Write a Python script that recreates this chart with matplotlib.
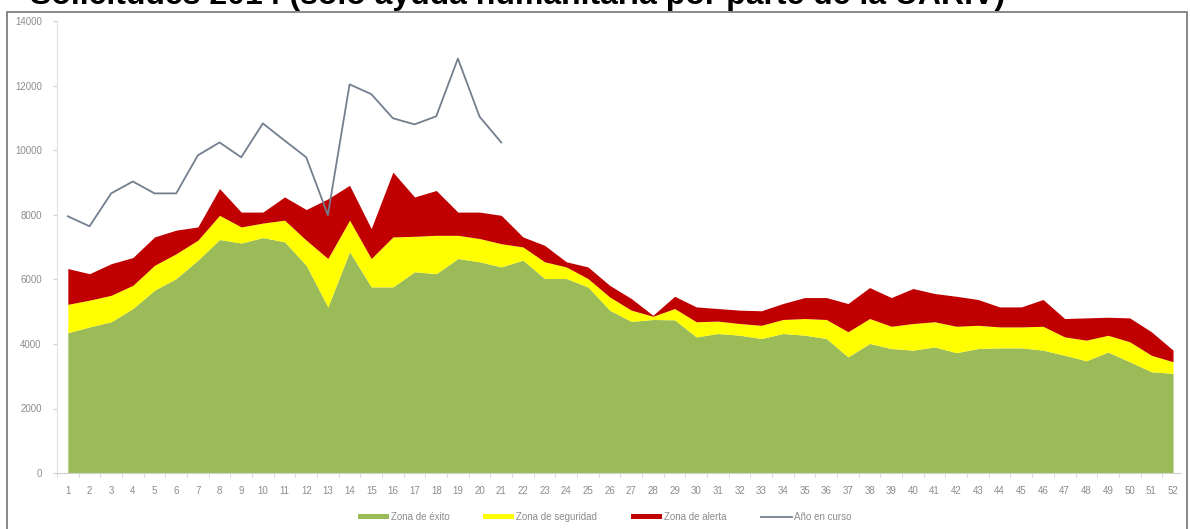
import matplotlib.pyplot as plt
import matplotlib.patches as patches

semanas = list(range(1, 53))

# limites del canal (valores acumulados)
zona_exito = [4350, 4530, 4690, 5100, 5670, 6030, 6600, 7240, 7130, 7300,
              7170, 6440, 5150, 6860, 5770, 5770, 6240, 6180, 6650, 6550,
              6390, 6600, 6030, 6030, 5770, 5050, 4700, 4760, 4750, 4220,
              4325, 4274, 4170, 4325, 4274, 4170, 3600, 4015, 3860, 3810,
              3910, 3730, 3860, 3880, 3880, 3810, 3650, 3480, 3750, 3450,
              3140, 3090]
zona_seguridad = [5230, 5360, 5510, 5820, 6440, 6800, 7220, 7990, 7630, 7750,
                  7840, 7220, 6650, 7840, 6650, 7320, 7340, 7370, 7370, 7270,
                  7110, 7010, 6550, 6390, 6030, 5460, 5050, 4860, 5100, 4690,
                  4710, 4635, 4580, 4760, 4790, 4760, 4380, 4790, 4550, 4635,
                  4690, 4550, 4580, 4530, 4530, 4550, 4220, 4120, 4270, 4070,
                  3650, 3450]
zona_alerta = [6340, 6180, 6490, 6680, 7320, 7530, 7630, 8820, 8090, 8090,
               8560, 8170, 8500, 8920, 7580, 9330, 8560, 8760, 8090, 8090,
               7990, 7320, 7060, 6550, 6390, 5820, 5410, 4890, 5480, 5150,
               5100, 5050, 5030, 5255, 5440, 5440, 5255, 5750, 5440, 5720,
               5565, 5480, 5380, 5150, 5150, 5380, 4790, 4810, 4830, 4810,
               4380, 3810]

semanas_actual = list(range(1, 22))
anio_en_curso = [7960, 7650, 8670, 9040, 8670, 8670, 9850, 10250, 9790, 10840,
                 10310, 9790, 8000, 12050, 11750, 11000, 10810, 11060, 12850, 11050,
                 10250]

fig = plt.figure(figsize=(11.9, 5.29), dpi=100)
ax = fig.add_axes([57/1190, 56/529, 1124/1190, 451.5/529])

ax.fill_between(semanas, 0, zona_exito, color='#9BBB59', lw=0, label='Zona de éxito')
ax.fill_between(semanas, zona_exito, zona_seguridad, color='#FFFF00', lw=0, label='Zona de seguridad')
ax.fill_between(semanas, zona_seguridad, zona_alerta, color='#C00000', lw=0, label='Zona de alerta')
ax.plot(semanas_actual, anio_en_curso, color='#737f8e', lw=1.3, label='Año en curso', zorder=5)

ax.set_xlim(0.632, 52.368)
ax.set_ylim(0, 14000)
ax.set_xticks(semanas)
ax.set_xticks([s + 0.5 for s in semanas[:-1]] + [0.5], minor=True)
ax.set_yticks(range(0, 14001, 2000))

gris = '#8c8c8c'
ax.tick_params(axis='x', which='major', length=0, pad=9, labelsize=7, labelcolor=gris)
ax.tick_params(axis='x', which='minor', length=3, color='#d0d0d0')
ax.tick_params(axis='y', length=3, color='#d0d0d0', pad=8, labelsize=7, labelcolor=gris)
for lbl in ax.get_xticklabels() + ax.get_yticklabels():
    lbl.set_family('Liberation Sans')

for s in ['top', 'right']:
    ax.spines[s].set_visible(False)
ax.spines['left'].set_color('#e0e0e0')
ax.spines['bottom'].set_color('#d0d0d0')

leg = fig.legend(loc='center', bbox_to_anchor=(0.508, 0.023), ncol=4, frameon=False,
                 handlelength=3.2, handleheight=0.45, columnspacing=3.5,
                 handletextpad=0.2, prop={'family': 'Liberation Sans', 'size': 7})
for t in leg.get_texts():
    t.set_color(gris)

# marco del grafico
fig.patches.append(patches.Rectangle((7/1190, -0.02), 1180/1190, 517/529 + 0.02,
                                     transform=fig.transFigure, fill=False,
                                     edgecolor='#7f7f7f', lw=1.3))

# titulo (en la imagen original queda cortado en el borde superior)
fig.text(30/1190, 1 - 4/529, 'Solicitudes 2014 (solo ayuda humanitaria por parte de la UARIV)',
         ha='left', va='baseline', fontsize=23, fontweight='bold', family='Liberation Sans')

fig.savefig('out.png', dpi=100)
